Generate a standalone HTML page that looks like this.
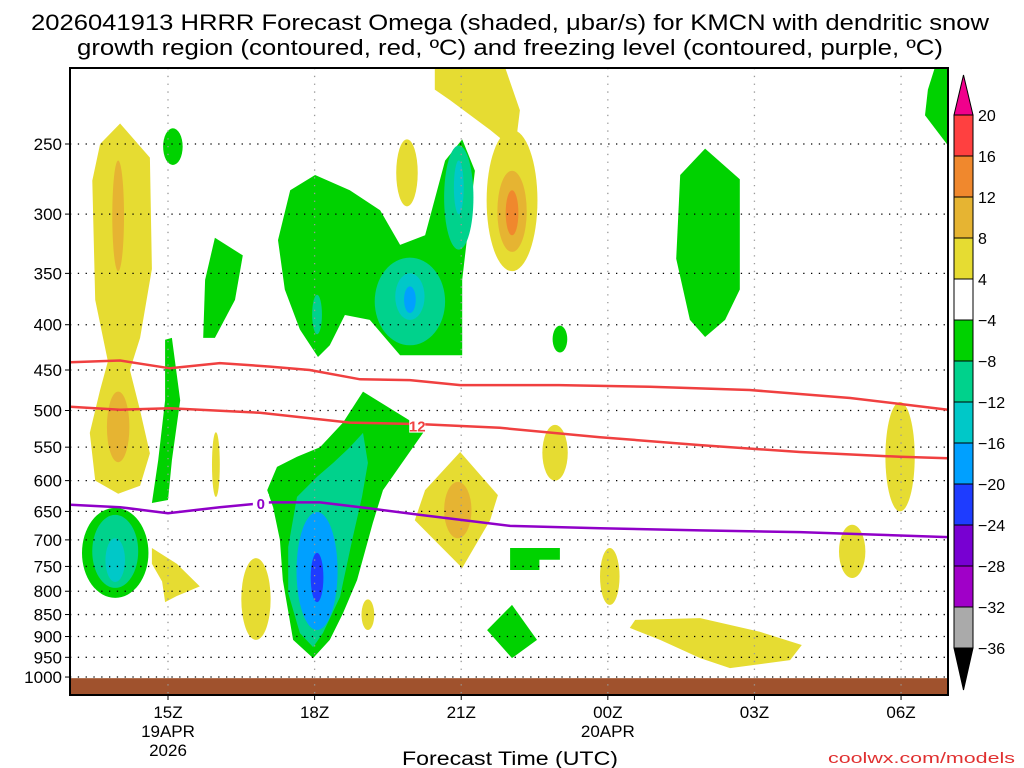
<!DOCTYPE html>
<html><head><meta charset="utf-8"><style>
html,body{margin:0;padding:0;background:#fff;}
svg{display:block;font-family:"Liberation Sans",sans-serif;}
</style></head><body>
<svg id="chart" width="1024" height="768" viewBox="0 0 1024 768">
<text x="510" y="30" text-anchor="middle" font-size="22" textLength="958" lengthAdjust="spacingAndGlyphs">2026041913 HRRR Forecast Omega (shaded, μbar/s) for KMCN with dendritic snow</text>
<text x="510" y="55" text-anchor="middle" font-size="22" textLength="866" lengthAdjust="spacingAndGlyphs">growth region (contoured, red, ºC) and freezing level (contoured, purple, ºC)</text>
<g id="plot"></g>
<g id="axes"></g>
<g id="cbar"></g>
<text x="510" y="765" text-anchor="middle" font-size="19" textLength="216" lengthAdjust="spacingAndGlyphs">Forecast Time (UTC)</text>
<text x="1015" y="763" text-anchor="end" font-size="15" fill="#e03030" textLength="187" lengthAdjust="spacingAndGlyphs">coolwx.com/models</text>
</svg>
<script>
// ---- data ----
const yTicks = [250,300,350,400,450,500,550,600,650,700,750,800,850,900,950,1000];
const xTickHours = [15,18,21,24,27,30];
const xTickLabels = ["15Z","18Z","21Z","00Z","03Z","06Z"];
const xSubLabels = [["19APR","2026"],[],[],["20APR"],[],[]];
const levelColors = {y:"#e6dc32", o8:"#e6b432", o12:"#f0882d", g:"#00d200", t:"#00d28c", c:"#00c8c8", lb:"#00a0ff", b:"#1e3cff"};
// polygon shapes: level, [hour, pressure] pairs
const polyLevels = ["y","g","g","g","g","y","g","g","t","y","y","g","y","g"];
const polyPts = [
 [[14.02,237],[14.63,259],[14.67,346],[14.43,414],[14.22,450],[14.43,500],[14.63,559],[14.43,608],[13.98,621],[13.51,600],[13.40,530],[13.61,474],[13.77,440],[13.51,375],[13.45,275],[13.61,250]],
 [[15.08,414],[15.25,487],[15.08,569],[15.0,631],[14.67,636],[14.80,569],[14.94,487],[14.94,416]],
 [[15.96,319],[16.53,334],[16.37,375],[15.96,414],[15.72,414],[15.76,356]],
 [[17.25,321],[17.5,282],[18.01,271],[18.72,282],[19.34,297],[19.75,325],[20.26,317],[20.67,261],[21.02,247],[21.28,268],[21.02,356],[21.02,433],[19.75,433],[19.13,395],[18.62,390],[18.31,422],[18.07,435],[17.70,405],[17.39,365]],
 [[25.99,253],[26.7,274],[26.7,365],[26.4,395],[25.99,413],[25.68,395],[25.4,337],[25.48,271]],
 [[20.46,205],[21.90,205],[22.2,229],[22.1,254],[21.59,241],[20.77,223],[20.46,217]],
 [[30.69,205],[30.96,205],[30.96,251],[30.49,232],[30.55,217]],
 [[18.99,476],[20.26,526],[19.40,615],[19.19,670],[18.87,777],[18.58,847],[18.31,908],[17.97,952],[17.56,908],[17.35,777],[17.29,700],[17.15,643],[17.03,615],[17.23,579],[17.64,564],[18.11,550],[18.58,516]],
 [[18.99,530],[19.09,573],[18.97,626],[18.77,700],[18.52,812],[18.17,892],[17.97,925],[17.70,892],[17.46,804],[17.46,713],[17.64,626],[18.05,594],[18.38,573],[18.72,550]],
 [[20.98,557],[21.75,623],[21.59,665],[21.02,753],[20.05,665],[20.26,615]],
 [[14.67,715],[15.18,745],[15.65,790],[15.18,810],[14.94,823],[14.88,780],[14.67,745]],
 [[22.04,829],[22.55,908],[22.04,952],[21.53,885]],
 [[24.56,862],[25.89,858],[27.11,889],[27.97,920],[27.73,957],[26.5,977],[25.89,952],[25.07,908],[24.45,880]],
 [[22.0,715],[23.02,715],[23.02,737],[22.6,737],[22.6,757],[22.0,757]]
];
// ellipse shapes: level, center hour, half-width hours, top pressure, bottom pressure
const ellLevel = ["o8","o8","g","t","c","t","c","lb","t","y","o8","o12","y","g","y","lb","b","y","y","o8","y","y","y","y","g","t","c"];
const ellHour  = [13.98,13.98,15.1,20.95,20.95,19.95,19.95,19.95,18.05,22.04,22.04,22.04,19.89,23.02,16.8,18.05,18.05,19.09,22.92,20.93,24.04,29.0,29.98,15.98,13.92,13.92,13.92];
const ellHalf  = [0.12,0.23,0.2,0.3,0.1,0.72,0.3,0.12,0.1,0.52,0.3,0.13,0.22,0.15,0.3,0.42,0.13,0.13,0.26,0.28,0.2,0.27,0.3,0.08,0.68,0.47,0.2];
const ellPTop  = [261,476,240,251,261,336,350,362,370,241,268,282,247,401,734,651,724,817,519,602,715,673,489,529,644,656,697];
const ellPBot  = [348,572,264,329,300,422,395,388,410,348,331,317,294,430,908,885,823,885,600,697,829,773,650,626,814,793,781];
const lbHour = [18.05], lbHalf=[0.29], lbTop=[688], lbBot=[862];
// dendritic growth lines (red) and freezing level (purple)
const redUpHours = [13,14.02,15.04,16.06,17.09,17.9,18.93,19.95,20.98,23.0,24.86,26.9,28.96,30.96];
const redUpP     = [441,439,448,442,446,450,461,462,468,468,470,474,484,499];
const redLoHours = [13,14.02,15.04,16.88,18.72,20.16,21.79,23.84,25.89,27.93,29.98,30.96];
const redLoP     = [495,499,497,503,516,518,523,536,547,557,564,566];
const frzHours   = [13,14.02,15.0,16.06,17.09,18.11,19.13,20.16,22.0,23.84,25.89,27.93,30.96];
const frzP       = [639,643,653,643,635,635,645,656,675,679,683,686,695];
const surfaceP = 1003;
const cbLabels = ["20","16","12","8","4","−4","−8","−12","−16","−20","−24","−28","−32","−36"];
const cbColors = ["#ff4040","#f0882d","#e6b432","#e6dc32","#ffffff","#00d200","#00d28c","#00c8c8","#00a0ff","#1e3cff","#7800d2","#a000c8","#aaaaaa"];

// ---- scales ----
const X0=70,X1=948,Y0=68,Y1=695;
const xS = h => 168 + (h-15)*48.87;
const yS = p => 144 + Math.log(p/250)*384.5;
const NS="http://www.w3.org/2000/svg";
function mk(tag,attrs,parent){const e=document.createElementNS(NS,tag);for(const k in attrs)e.setAttribute(k,attrs[k]);parent.appendChild(e);return e;}
const plot=document.getElementById('plot'), axes=document.getElementById('axes'), cbar=document.getElementById('cbar');
const defs=mk('defs',{},plot);
const cp=mk('clipPath',{id:'clip'},defs); mk('rect',{x:X0,y:Y0,width:X1-X0,height:Y1-Y0},cp);
const g=mk('g',{'clip-path':'url(#clip)'},plot);

const order=["y","g","o8","t","o12","c","lb","b"];
const items=[];
polyLevels.forEach((l,i)=>items.push({l,kind:'p',i}));
ellLevel.forEach((l,i)=>items.push({l,kind:'e',i}));
lbHour.forEach((h,i)=>items.push({l:'lb',kind:'lb',i}));
items.sort((a,b)=>order.indexOf(a.l)-order.indexOf(b.l));
items.forEach(it=>{
  let el;
  if(it.kind==='p'){
    el=mk('polygon',{points:polyPts[it.i].map(q=>xS(q[0]).toFixed(1)+','+yS(q[1]).toFixed(1)).join(' '),fill:levelColors[it.l]},g);
  } else if(it.kind==='e'){
    const yt=yS(ellPTop[it.i]), yb=yS(ellPBot[it.i]);
    el=mk('ellipse',{cx:xS(ellHour[it.i]),cy:(yt+yb)/2,rx:ellHalf[it.i]*48.87,ry:(yb-yt)/2,fill:levelColors[it.l]},g);
  } else {
    const yt=yS(lbTop[it.i]), yb=yS(lbBot[it.i]);
    el=mk('ellipse',{cx:xS(lbHour[it.i]),cy:(yt+yb)/2,rx:lbHalf[it.i]*48.87,ry:(yb-yt)/2,fill:levelColors.lb},g);
  }
  
  
});
// ground
const gr=mk('rect',{x:X0,y:yS(surfaceP),width:X1-X0,height:Y1-yS(surfaceP),fill:'#a0522d'},g);


// grid
yTicks.forEach(p=>{const l=mk('line',{x1:X0,x2:X1,y1:yS(p),y2:yS(p),stroke:'#000','stroke-width':1.3,'stroke-dasharray':'1.3 6.5'},g);
 
 });
xTickHours.forEach(h=>{const l=mk('line',{x1:xS(h),x2:xS(h),y1:Y0,y2:Y1,stroke:'#999','stroke-width':1.3,'stroke-dasharray':'1.3 6.5'},g);
 
 });
// lines
function line(hs,ps,color,name){const l=mk('polyline',{points:hs.map((h,i)=>xS(h).toFixed(1)+','+yS(ps[i]).toFixed(1)).join(' '),fill:'none',stroke:color,'stroke-width':2.5},g);
 
 }
line(redUpHours,redUpP,'#f04040','dgz-upper-line');
line(redLoHours,redLoP,'#f04040','dgz-lower-line');
line(frzHours,frzP,'#9000c8','freezing-level-line');
function lab(x,y,t,c,name){mk('rect',{x:x-8,y:y-9,width:16,height:16,fill:'#fff'},g);const e=mk('text',{x:x,y:y+6,'text-anchor':'middle','font-size':15,'font-weight':'bold',fill:c},g);e.textContent=t;
 
 }
lab(xS(20.1),yS(520),'12','#f04040','dgz-label-12');
lab(xS(16.9),yS(636),'0','#9000c8','freezing-label-0');
// frame
mk('rect',{x:X0,y:Y0,width:X1-X0,height:Y1-Y0,fill:'none',stroke:'#000','stroke-width':2},axes);
yTicks.forEach(p=>{const t=mk('text',{x:62,y:yS(p)+6,'text-anchor':'end','font-size':17},axes);t.textContent=p;
 
 
 mk('line',{x1:X0-5,x2:X0,y1:yS(p),y2:yS(p),stroke:'#000'},axes);});
xTickHours.forEach((h,i)=>{
 mk('line',{x1:xS(h),x2:xS(h),y1:Y1,y2:Y1+5,stroke:'#000'},axes);
 const lines=[xTickLabels[i]].concat(xSubLabels[i]);
 lines.forEach((s,j)=>{const t=mk('text',{x:xS(h),y:718+j*19,'text-anchor':'middle','font-size':17},axes);t.textContent=s;
  
  });
});
// colorbar
const CX=954,CW=19,CT=115,CS=41;
mk('polygon',{points:`${CX},${CT} ${CX+CW},${CT} ${CX+CW/2},75`,fill:'#f0008c',stroke:'#000'},cbar);
cbColors.forEach((c,i)=>{const r=mk('rect',{x:CX,y:CT+i*CS,width:CW,height:CS,fill:c,stroke:'#000','stroke-width':1},cbar);
 
 });
const cb=CT+cbColors.length*CS;
mk('polygon',{points:`${CX},${cb} ${CX+CW},${cb} ${CX+CW/2},690`,fill:'#000',stroke:'#000'},cbar);
cbLabels.forEach((s,i)=>{const t=mk('text',{x:978,y:CT+i*CS+6,'font-size':16},cbar);t.textContent=s;
 
 });
</script>
</body></html>
